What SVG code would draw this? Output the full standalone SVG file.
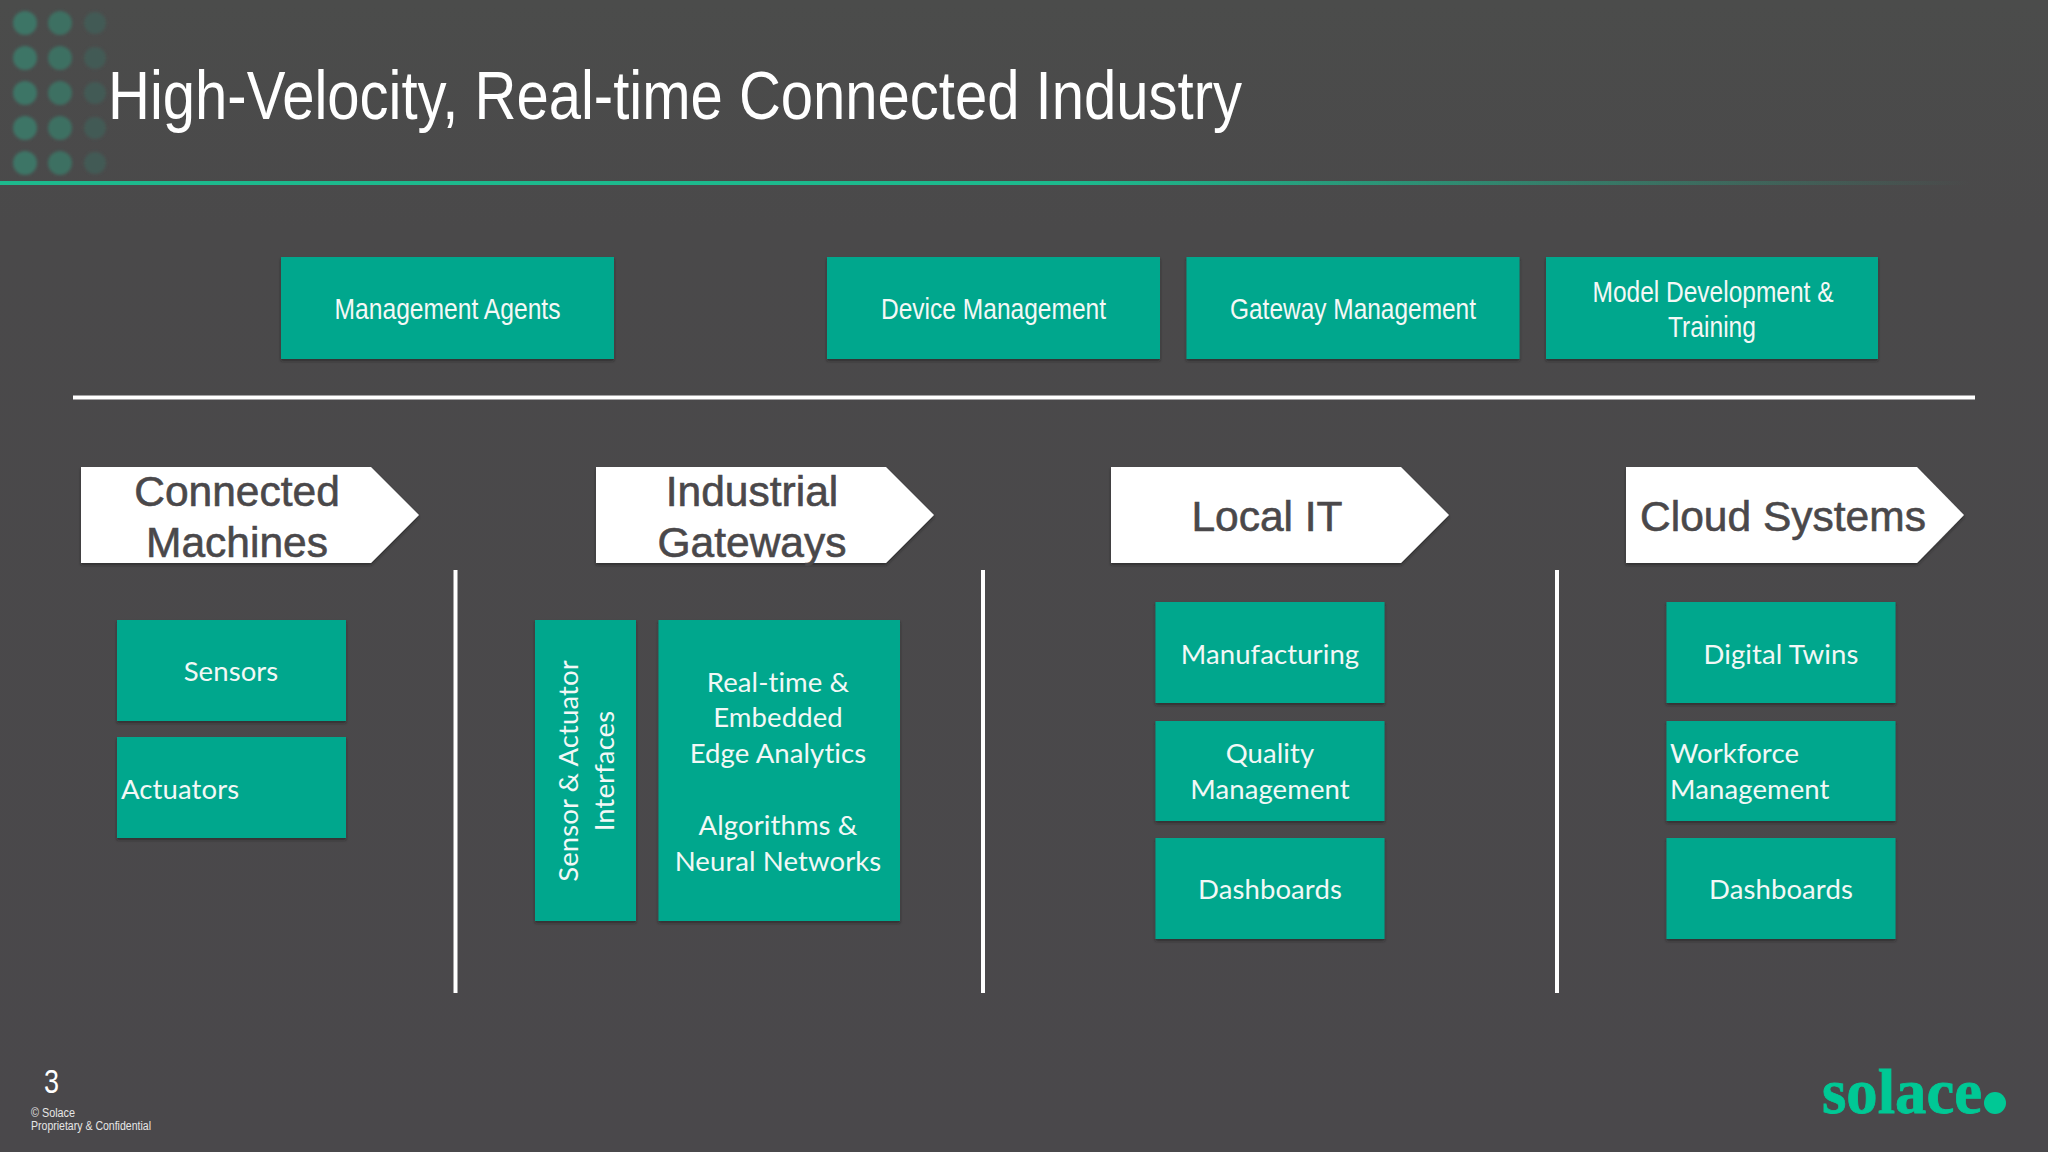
<svg xmlns="http://www.w3.org/2000/svg" width="2048" height="1152" viewBox="0 0 2048 1152">
<style>
.box{fill:#01a78d;filter:url(#sh)}
.top{font:29px "Liberation Sans",Arial,sans-serif;fill:#f4f8f6;text-anchor:middle}
.lab{font:27.500px Lato,"Open Sans",sans-serif;fill:#f2f8f6;text-anchor:middle;letter-spacing:.1px}
.left{text-anchor:start}
.arrow{fill:#fff;filter:url(#sh)}
.head{font:42.500px "Liberation Sans",Arial,sans-serif;fill:#4a484a;stroke:#4a484a;stroke-width:.6;text-anchor:middle}
.rule{stroke:#fff;stroke-width:4;fill:none}
.d1{fill:#3d7566}.d2{fill:#3d6f62}.d3{fill:#435a55}
</style>
<defs>
<filter id="sh" x="-5%" y="-5%" width="110%" height="112%"><feDropShadow dx="0" dy="2" stdDeviation="1.500" flood-color="#222" flood-opacity=".6"/></filter>
<filter id="soft" x="-30%" y="-30%" width="160%" height="160%"><feGaussianBlur stdDeviation="1.500"/></filter>
<linearGradient id="gl" x1="0" x2="1" y1="0" y2="0"><stop offset="0" stop-color="#1db98d"/><stop offset=".55" stop-color="#1db98d"/><stop offset="1" stop-color="#1db98d" stop-opacity="0"/></linearGradient>
<linearGradient id="bg" x1="0" x2="0" y1="0" y2="1"><stop offset="0" stop-color="#4b4c4b"/><stop offset=".2" stop-color="#4a494a"/><stop offset="1" stop-color="#4a484b"/></linearGradient>
</defs>
<rect width="2048" height="1152" fill="url(#bg)"/>
<g id="dots" filter="url(#soft)">
<circle class="d1" cx="25" cy="23" r="12"/><circle class="d2" cx="60" cy="23" r="12"/><circle class="d3" cx="95" cy="23" r="11"/>
<circle class="d1" cx="25" cy="58" r="12"/><circle class="d2" cx="60" cy="58" r="12"/><circle class="d3" cx="95" cy="58" r="11"/>
<circle class="d1" cx="25" cy="93" r="12"/><circle class="d2" cx="60" cy="93" r="12"/><circle class="d3" cx="95" cy="93" r="11"/>
<circle class="d1" cx="25" cy="128" r="12"/><circle class="d2" cx="60" cy="128" r="12"/><circle class="d3" cx="95" cy="128" r="11"/>
<circle class="d1" cx="25" cy="163" r="12"/><circle class="d2" cx="60" cy="163" r="12"/><circle class="d3" cx="95" cy="163" r="11"/>
</g>
<text id="title" x="108" y="119" font-family="Liberation Sans, Arial, sans-serif" font-size="68" fill="#fff" textLength="1134" lengthAdjust="spacingAndGlyphs">High-Velocity, Real-time Connected Industry</text>
<rect id="title-rule" x="0" y="181" width="1970" height="4" fill="url(#gl)"/>
<g id="rules">
<line class="rule" x1="73" y1="397.500" x2="1975" y2="397.500"/>
<line class="rule" x1="455.500" y1="570" x2="455.500" y2="993"/>
<line class="rule" x1="983" y1="570" x2="983" y2="993"/>
<line class="rule" x1="1557" y1="570" x2="1557" y2="993"/>
</g>
<g id="management-agents"><rect class="box" x="281" y="257" width="333" height="102"/><text class="top" x="447.500" y="319" textLength="226" lengthAdjust="spacingAndGlyphs">Management Agents</text></g>
<g id="device-management"><rect class="box" x="827" y="257" width="333" height="102"/><text class="top" x="993.500" y="319" textLength="225" lengthAdjust="spacingAndGlyphs">Device Management</text></g>
<g id="gateway-management"><rect class="box" x="1186.500" y="257" width="333" height="102"/><text class="top" x="1353" y="319" textLength="246" lengthAdjust="spacingAndGlyphs">Gateway Management</text></g>
<g id="model-development"><rect class="box" x="1546" y="257" width="332" height="102"/><text class="top" x="1713" y="302" textLength="241" lengthAdjust="spacingAndGlyphs">Model Development &amp;</text><text class="top" x="1712" y="337" textLength="88" lengthAdjust="spacingAndGlyphs">Training</text></g>
<g id="connected-machines"><path class="arrow" d="M81 467H371L419 515L371 563H81Z"/><text class="head" x="237" y="506">Connected</text><text class="head" x="237" y="557">Machines</text></g>
<g id="industrial-gateways"><path class="arrow" d="M596 467H886L934 515L886 563H596Z"/><text class="head" x="752" y="506">Industrial</text><text class="head" x="752" y="557">Gateways</text></g>
<g id="local-it"><path class="arrow" d="M1111 467H1401L1449 515L1401 563H1111Z"/><text class="head" x="1267" y="531">Local IT</text></g>
<g id="cloud-systems"><path class="arrow" d="M1626 467H1917L1964 515L1917 563H1626Z"/><text class="head" x="1783" y="531">Cloud Systems</text></g>
<g id="sensors"><rect class="box" x="117" y="620" width="229" height="101"/><text class="lab" x="231" y="681">Sensors</text></g>
<g id="actuators"><rect class="box" x="117" y="737" width="229" height="101"/><text class="lab left" x="121" y="799">Actuators</text></g>
<g id="sensor-actuator"><rect class="box" x="535" y="620" width="101" height="301"/><text class="lab" transform="translate(578 771) rotate(-90)">Sensor &amp; Actuator</text><text class="lab" transform="translate(614 771) rotate(-90)">Interfaces</text></g>
<g id="analytics"><rect class="box" x="658.500" y="620" width="241.500" height="301"/>
<text class="lab" x="778" y="692">Real-time &amp;</text><text class="lab" x="778" y="727">Embedded</text><text class="lab" x="778" y="763">Edge Analytics</text><text class="lab" x="778" y="835">Algorithms &amp;</text><text class="lab" x="778" y="871">Neural Networks</text></g>
<g id="manufacturing"><rect class="box" x="1155.500" y="602" width="229" height="101"/><text class="lab" x="1270" y="664">Manufacturing</text></g>
<g id="quality-management"><rect class="box" x="1155.500" y="721" width="229" height="100"/><text class="lab" x="1270" y="763">Quality</text><text class="lab" x="1270" y="799">Management</text></g>
<g id="dashboards-local"><rect class="box" x="1155.500" y="838" width="229" height="101"/><text class="lab" x="1270" y="899">Dashboards</text></g>
<g id="digital-twins"><rect class="box" x="1666.500" y="602" width="229" height="101"/><text class="lab" x="1781" y="664">Digital Twins</text></g>
<g id="workforce-management"><rect class="box" x="1666.500" y="721" width="229" height="100"/><text class="lab left" x="1670" y="763">Workforce</text><text class="lab left" x="1670" y="799">Management</text></g>
<g id="dashboards-cloud"><rect class="box" x="1666.500" y="838" width="229" height="101"/><text class="lab" x="1781" y="899">Dashboards</text></g>
<g id="footer" font-family="Liberation Sans, Arial, sans-serif">
<text x="44" y="1093" font-size="33" fill="#fff" textLength="15" lengthAdjust="spacingAndGlyphs">3</text>
<text x="31" y="1117" font-size="12.500" fill="#e6e6e6" textLength="44" lengthAdjust="spacingAndGlyphs">© Solace</text>
<text x="31" y="1130" font-size="12.500" fill="#e6e6e6" textLength="120" lengthAdjust="spacingAndGlyphs">Proprietary &amp; Confidential</text>
</g>
<g id="logo"><text x="1822" y="1113" font-family="Liberation Serif, serif" font-weight="bold" font-size="64" fill="#00c895" stroke="#00c895" stroke-width=".8" textLength="160" lengthAdjust="spacingAndGlyphs">solace</text><circle cx="1995" cy="1103" r="11" fill="#00c895"/></g>
</svg>
